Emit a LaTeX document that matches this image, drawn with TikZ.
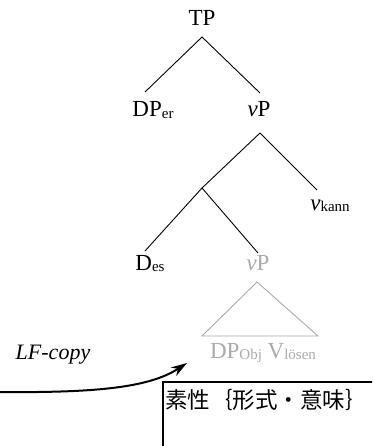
\documentclass[tikz,border=0pt]{standalone}
\usepackage{fontspec}
\setmainfont{Liberation Serif}
\newfontfamily\cjkfont{Noto Sans CJK JP}
\usetikzlibrary{arrows.meta}
\definecolor{ghost}{RGB}{170,170,170}
\newcommand{\sbs}[1]{\raisebox{-1.5pt}{\fontsize{15}{15}\selectfont #1}}
\begin{document}
\begin{tikzpicture}[x=1pt,y=-1pt,
  lab/.style={inner sep=0pt,anchor=base,font=\fontsize{23}{23}\selectfont},
  branch/.style={line width=0.9pt},
  gbranch/.style={line width=0.9pt,draw=ghost}]
\useasboundingbox (0,0) rectangle (372,446);
\clip (0,0) rectangle (372,446);
% labels
\node[lab] (TP) at (202,26) {TP};
\node[lab] (DPer) at (153,117) {DP\sbs{er}};
\node[lab] (vP) at (259,117) {\textit{v}P};
\node[lab] (vkann) at (330,210) {\textit{v}\sbs{kann}};
\node[lab] (Des) at (150,270) {D\sbs{es}};
\node[lab,text=ghost] (gvP) at (258,270) {\textit{v}P};
\node[lab,text=ghost] (DPV) at (263,358) {DP\sbs{Obj} V\sbs{lösen}};
\node[lab,font=\fontsize{22}{22}\selectfont\itshape] (LF) at (53,359) {LF-copy};
% branch points
\coordinate (TPa) at (202,37);
\coordinate (DPerT) at (145,92);
\coordinate (vPT) at (260,93);
\coordinate (vPa) at (260,133);
\coordinate (vkannT) at (317,190);
\coordinate (mid) at (202,188);
\coordinate (DesT) at (145,251);
\coordinate (gvPT) at (258,253);
\coordinate (triA) at (257,282);
\coordinate (triL) at (202,336);
\coordinate (triR) at (318,336);
\draw[branch] (DPerT) -- (TPa) -- (vPT);
\draw[branch] (vkannT) -- (vPa) -- (mid);
\draw[branch] (DesT) -- (mid) -- (gvPT);
\draw[gbranch] (triL) -- (triA) -- (triR) -- cycle;
% arrow
\coordinate (arrS) at (-2,392);
\coordinate (arrE) at (187,363);
\draw[line width=2pt,-{Stealth[length=16pt,width=10pt]}] (arrS) .. controls (100,393) and (150,387) .. (arrE);
% feature box
\node[anchor=west,inner sep=0pt,font=\cjkfont\fontsize{22.5}{22.5}\selectfont] (feat) at (165,400) {素性｛形式・意味｝};
\draw[line width=1.3pt] (163,382) rectangle (400,470);
\end{tikzpicture}
\end{document}
